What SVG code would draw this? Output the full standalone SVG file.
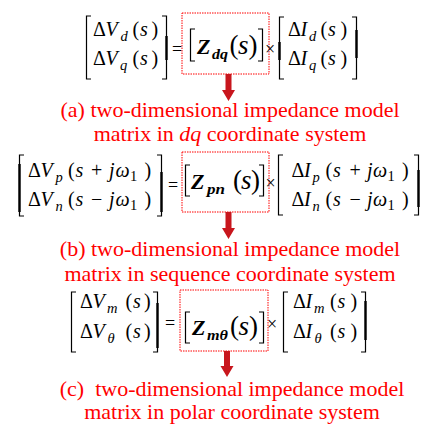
<svg xmlns="http://www.w3.org/2000/svg" width="422" height="424" viewBox="0 0 422 424" font-family="'Liberation Serif', 'Times New Roman', serif">
<style>
.m{font-family:'Liberation Serif','Times New Roman',serif;font-size:20px;fill:#000}
.i{font-style:italic}
.s{font-size:14.5px}
.z{font-family:'Liberation Serif','Times New Roman',serif;font-weight:bold;font-style:italic;font-size:22px;fill:#000}
.zs{font-family:'Liberation Serif','Times New Roman',serif;font-weight:bold;font-style:italic;font-size:15px;fill:#000}
.p{font-family:'Liberation Serif','Times New Roman',serif;font-size:27px;fill:#000}
.op{font-family:'Liberation Serif','Times New Roman',serif;font-size:18px;fill:#000}
.br{fill:none;stroke:#000;stroke-width:1.2}
.thk{fill:none;stroke:#000;stroke-width:2.4}
.box{fill:none;stroke:#ff0000;stroke-width:1;stroke-dasharray:1.5 1}
.cap{font-family:'Liberation Serif','Times New Roman',serif;font-size:22px;fill:#ff0000;text-anchor:middle}
.arr{fill:#c8161d}
</style>

<g id="eq-dq">
  <path class="br" d="M91,16 H86.5 V79 H91"/>
  <path class="br" d="M162,16 H166.5 V79 H162"/>
  <path class="thk" d="M166.5,36 V60"/>
  <text class="m" y="36"><tspan x="93">Δ</tspan><tspan class="i" x="105.5">V</tspan><tspan class="i s" x="120.5" dy="5">d</tspan><tspan x="132.5" dy="-5">(</tspan><tspan class="i" x="140">s</tspan><tspan x="151.5">)</tspan></text>
  <text class="m" y="65"><tspan x="93">Δ</tspan><tspan class="i" x="105.5">V</tspan><tspan class="i s" x="120" dy="5">q</tspan><tspan x="132.5" dy="-5">(</tspan><tspan class="i" x="140">s</tspan><tspan x="151.5">)</tspan></text>
  <text class="op" x="172" y="55">=</text>
  <rect class="box" x="182" y="13" width="87" height="61"/>
  <path class="br" d="M195,29 H190.5 V61 H195"/>
  <path class="br" d="M258,29 H262.5 V61 H258"/>
  <text class="z" x="197" y="54">Z</text>
  <text class="zs" x="212" y="59" textLength="16" lengthAdjust="spacingAndGlyphs">dq</text>
  <text class="p" x="229.5" y="54">(</text>
  <text class="p i" x="238" y="54">s</text>
  <text class="p" x="248.5" y="54">)</text>
  <text class="op" x="265" y="55">×</text>
  <path class="br" d="M284,17 H279.5 V79 H284"/>
  <path class="br" d="M352,17 H356.5 V79 H352"/>
  <path class="thk" d="M279.5,42 V60 M356.5,30 V58"/>
  <text class="m" y="36"><tspan x="288">Δ</tspan><tspan class="i" x="300.5">I</tspan><tspan class="i s" x="309" dy="5">d</tspan><tspan x="320.5" dy="-5">(</tspan><tspan class="i" x="328">s</tspan><tspan x="340.5">)</tspan></text>
  <text class="m" y="65"><tspan x="288">Δ</tspan><tspan class="i" x="300.5">I</tspan><tspan class="i s" x="309" dy="5">q</tspan><tspan x="320.5" dy="-5">(</tspan><tspan class="i" x="328">s</tspan><tspan x="340.5">)</tspan></text>
</g>

<g id="caption-a">
  <text class="cap" x="230" y="117">(a) two-dimensional impedance model</text>
  <text class="cap" x="230" y="141">matrix in <tspan font-style="italic">dq</tspan> coordinate system</text>
</g>

<g id="eq-pn">
  <path class="br" d="M24,155 H19.5 V216 H24"/>
  <path class="br" d="M157,155 H161.5 V216 H157"/>
  <path class="thk" d="M19.5,164 V212 M161.5,172 V212"/>
  <text class="m" y="177"><tspan x="28">Δ</tspan><tspan class="i" x="40.5">V</tspan><tspan class="i s" x="55.5" dy="5">p</tspan><tspan x="68" dy="-5">(</tspan><tspan class="i" x="75.5">s</tspan><tspan x="91">+</tspan><tspan class="i" x="109">j</tspan><tspan class="i" x="115.5">ω</tspan><tspan class="s" x="130" dy="4">1</tspan><tspan x="144.5" dy="-4">)</tspan></text>
  <text class="m" y="206"><tspan x="28">Δ</tspan><tspan class="i" x="40.5">V</tspan><tspan class="i s" x="55.5" dy="5">n</tspan><tspan x="68" dy="-5">(</tspan><tspan class="i" x="75.5">s</tspan><tspan x="91">−</tspan><tspan class="i" x="109">j</tspan><tspan class="i" x="115.5">ω</tspan><tspan class="s" x="130" dy="4">1</tspan><tspan x="144.5" dy="-4">)</tspan></text>
  <text class="op" x="168" y="191">=</text>
  <rect class="box" x="182" y="152" width="87" height="60"/>
  <path class="br" d="M190,165 H185.5 V196 H190"/>
  <path class="br" d="M259,165 H263.5 V196 H259"/>
  <text class="z" x="191" y="189">Z</text>
  <text class="zs" x="207" y="194" textLength="18" lengthAdjust="spacingAndGlyphs">pn</text>
  <text class="p" x="233" y="189">(</text>
  <text class="p i" x="241" y="189">s</text>
  <text class="p" x="251" y="189">)</text>
  <text class="op" x="265.5" y="189">×</text>
  <path class="br" d="M283,155 H278.5 V215 H283"/>
  <path class="br" d="M414,155 H418.5 V215 H414"/>
  <path class="thk" d="M418.5,170 V207"/>
  <text class="m" y="177"><tspan x="291.5">Δ</tspan><tspan class="i" x="304">I</tspan><tspan class="i s" x="312.5" dy="5">p</tspan><tspan x="325.5" dy="-5">(</tspan><tspan class="i" x="333">s</tspan><tspan x="349.5">+</tspan><tspan class="i" x="367">j</tspan><tspan class="i" x="373">ω</tspan><tspan class="s" x="387.5" dy="4">1</tspan><tspan x="402" dy="-4">)</tspan></text>
  <text class="m" y="206"><tspan x="291.5">Δ</tspan><tspan class="i" x="304">I</tspan><tspan class="i s" x="312.5" dy="5">n</tspan><tspan x="325.5" dy="-5">(</tspan><tspan class="i" x="333">s</tspan><tspan x="349.5">−</tspan><tspan class="i" x="367">j</tspan><tspan class="i" x="373">ω</tspan><tspan class="s" x="387.5" dy="4">1</tspan><tspan x="402" dy="-4">)</tspan></text>
</g>

<g id="caption-b">
  <text class="cap" x="230" y="256">(b) two-dimensional impedance model</text>
  <text class="cap" x="230" y="281">matrix in sequence coordinate system</text>
</g>

<g id="eq-m0">
  <path class="br" d="M76,292 H71.5 V352 H76"/>
  <path class="br" d="M153,292 H157.5 V352 H153"/>
  <path class="thk" d="M157.5,303 V348"/>
  <text class="m" y="308"><tspan x="80">Δ</tspan><tspan class="i" x="92.5">V</tspan><tspan class="i s" x="107" dy="5">m</tspan><tspan x="125.5" dy="-5">(</tspan><tspan class="i" x="133">s</tspan><tspan x="144">)</tspan></text>
  <text class="m" y="338"><tspan x="80">Δ</tspan><tspan class="i" x="92.5">V</tspan><tspan class="i s" x="107.5" dy="5">θ</tspan><tspan x="125.5" dy="-5">(</tspan><tspan class="i" x="133">s</tspan><tspan x="144">)</tspan></text>
  <text class="op" x="165" y="329">=</text>
  <rect class="box" x="180" y="290" width="88" height="61"/>
  <path class="br" d="M190,312 H185.5 V343 H190"/>
  <path class="br" d="M259,312 H263.5 V343 H259"/>
  <text class="z" x="192" y="335">Z</text>
  <text class="zs" x="207" y="340" textLength="21" lengthAdjust="spacingAndGlyphs">mθ</text>
  <text class="p" x="230" y="335">(</text>
  <text class="p i" x="238.5" y="335">s</text>
  <text class="p" x="249" y="335">)</text>
  <text class="op" x="267" y="330">×</text>
  <path class="br" d="M288,292 H283.5 V352 H288"/>
  <path class="br" d="M361,292 H365.5 V352 H361"/>
  <path class="thk" d="M365.5,301 V340"/>
  <text class="m" y="308"><tspan x="293">Δ</tspan><tspan class="i" x="305.5">I</tspan><tspan class="i s" x="314" dy="5">m</tspan><tspan x="330" dy="-5">(</tspan><tspan class="i" x="337.5">s</tspan><tspan x="350.5">)</tspan></text>
  <text class="m" y="338"><tspan x="293">Δ</tspan><tspan class="i" x="305.5">I</tspan><tspan class="i s" x="314.5" dy="5">θ</tspan><tspan x="330" dy="-5">(</tspan><tspan class="i" x="337.5">s</tspan><tspan x="350.5">)</tspan></text>
</g>

<g id="caption-c">
  <text class="cap" x="232" y="396">(c)&#160; two-dimensional impedance model</text>
  <text class="cap" x="232" y="419">matrix in polar coordinate system</text>
</g>

<g id="connectors">
  <path class="arr" d="M225.5,74 H231.5 V90 H235 L228.5,101 L222,90 H225.5 Z"/>
  <path class="arr" d="M225.5,212 H231.5 V228 H235 L228.5,239 L222,228 H225.5 Z"/>
  <path class="arr" d="M224,351 H230 V366 H233.5 L227,377 L220.5,366 H224 Z"/>
</g>
</svg>
